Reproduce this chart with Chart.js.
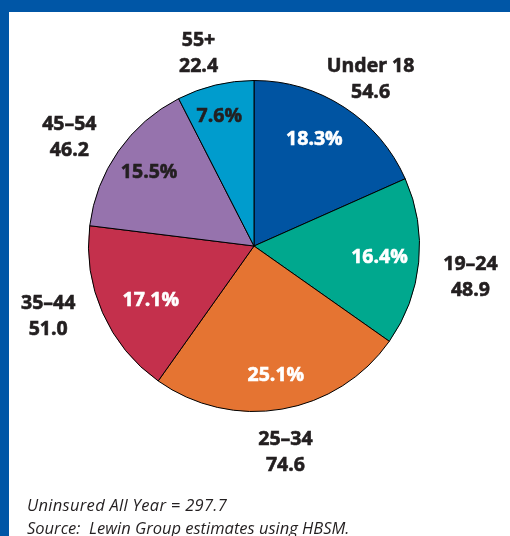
<!DOCTYPE html>
<html>
<head>
<meta charset="utf-8">
<script src="https://cdn.jsdelivr.net/npm/chart.js@4.4.1/dist/chart.umd.min.js"></script>
<style>
  html, body { margin: 0; padding: 0; background: #fff; }
  #frame { position: relative; width: 510px; height: 536px; overflow: hidden; background: #fff; }
  #topBar { position: absolute; left: 0; top: 0; width: 510px; height: 12px; background: #0056a6; }
  #leftBar { position: absolute; left: 0; top: 0; width: 9px; height: 536px; background: #0056a6; }
  #chartBox { position: absolute; left: 0; top: 0; width: 510px; height: 536px; }
  .note { position: absolute; left: 27px; font-family: "Open Sans", sans-serif; font-style: italic;
          font-size: 16.5px; color: #231f20; white-space: pre; }
</style>
</head>
<body>
<div id="frame">
  <div id="topBar"></div>
  <div id="leftBar"></div>
  <div id="chartBox"><canvas id="pieChart" width="510" height="536"></canvas></div>
  <div class="note" style="top:493px; letter-spacing:0.3px">Uninsured All Year = 297.7</div>
  <div class="note" style="top:516px">Source:  Lewin Group estimates using HBSM.</div>
</div>
<script>
// age groups, uninsured (millions) and share of total
const categories = ['Under 18', '19–24', '25–34', '35–44', '45–54', '55+'];
const uninsured = [54.6, 48.9, 74.6, 51.0, 46.2, 22.4];
const shares = ['18.3%', '16.4%', '25.1%', '17.1%', '15.5%', '7.6%'];
const valueLabels = ['54.6', '48.9', '74.6', '51.0', '46.2', '22.4'];

const sliceColors = ['#0054a2', '#00a88e', '#e57432', '#c4304c', '#9673ad', '#009ccd'];
const shareColors = ['#ffffff', '#ffffff', '#ffffff', '#ffffff', '#231f20', '#231f20'];

// label placement tweaks: distance in radii, and degrees turned off the slice middle
const insideR = [0.75, 0.76, 0.78, 0.70, 0.78, 0.82];
const insideTurn = [-3.9, -1.4, 0, -3.2, 0.7, -1.3];
const outsideR = [1.24, 1.32, 1.25, 1.31, 1.30, 1.22];
const outsideTurn = [1.6, 2.2, 1, 5.5, -4.1, -2.4];

const drawBold = (ctx, text, x, y) => {
  ctx.fillText(text, x, y);
  ctx.strokeText(text, x, y);
};

// draws the % inside each slice and the name + value outside it
const sliceLabels = {
  id: 'sliceLabels',
  afterDatasetsDraw(chart) {
    const ctx = chart.ctx;
    const meta = chart.getDatasetMeta(0);
    const deg = Math.PI / 180;
    ctx.save();
    ctx.textAlign = 'center';
    ctx.textBaseline = 'middle';
    ctx.lineWidth = 0.6;
    ctx.font = 'bold 19.5px "Open Sans", sans-serif';
    meta.data.forEach((arc, i) => {
      const mid = (arc.startAngle + arc.endAngle) / 2;
      const r = arc.outerRadius;

      const a1 = mid + insideTurn[i] * deg;
      ctx.fillStyle = shareColors[i];
      ctx.strokeStyle = shareColors[i];
      drawBold(ctx, shares[i], arc.x + Math.cos(a1) * r * insideR[i], arc.y + Math.sin(a1) * r * insideR[i] + 2);

      const a2 = mid + outsideTurn[i] * deg;
      const ox = arc.x + Math.cos(a2) * r * outsideR[i];
      const oy = arc.y + Math.sin(a2) * r * outsideR[i] + 2;
      ctx.fillStyle = '#231f20';
      ctx.strokeStyle = '#231f20';
      drawBold(ctx, categories[i], ox, oy - 13);
      drawBold(ctx, valueLabels[i], ox, oy + 13);
    });
    ctx.restore();
  }
};

new Chart(document.getElementById('pieChart').getContext('2d'), {
  type: 'pie',
  data: {
    labels: categories,
    datasets: [{
      data: uninsured,
      backgroundColor: sliceColors,
      borderColor: '#000000',
      borderWidth: 1,
    }],
  },
  options: {
    responsive: false,
    animation: false,
    layout: { padding: { left: 88, right: 90, top: 80, bottom: 124 } },
    plugins: {
      legend: { display: false },
      tooltip: { enabled: false },
    },
  },
  plugins: [sliceLabels],
});
</script>
</body>
</html>
